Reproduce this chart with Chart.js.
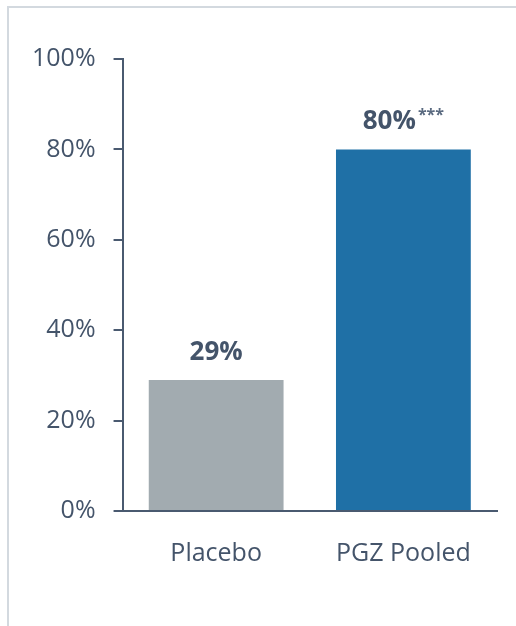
<!DOCTYPE html>
<html>
<head>
<meta charset="utf-8">
<script src="https://cdn.jsdelivr.net/npm/chart.js@4"></script>
<style>
  html, body { margin: 0; padding: 0; background: #fff; }
  #wrap { position: relative; width: 516px; height: 626px; }
  #frame { position: absolute; left: 7px; top: 6px; right: 0; bottom: 0; border-left: 2px solid #d3d9df; border-top: 2px solid #d3d9df; }
  canvas { position: absolute; left: 0; top: 0; }
</style>
</head>
<body>
<div id="wrap">
  <div id="frame"></div>
  <canvas id="chart" width="516" height="626"></canvas>
</div>
<script>
const categories = ['Placebo', 'PGZ Pooled'];
const values = [29, 80];
const valueLabels = ['29%', '80%'];
const significance = ['', '***'];
const barColors = ['#A2ABB0', '#1F70A6'];
const yTicks = [0, 20, 40, 60, 80, 100];

const TEXT = '#44546A';
const FONT = '"Open Sans", sans-serif';

const barLabels = {
  id: 'barLabels',
  afterDatasetsDraw(chart) {
    const ctx = chart.ctx;
    const meta = chart.getDatasetMeta(0);
    ctx.save();
    ctx.fillStyle = TEXT;
    ctx.textBaseline = 'alphabetic';
    meta.data.forEach((bar, i) => {
      ctx.font = `bold 26px ${FONT}`;
      const main = valueLabels[i];
      const wMain = ctx.measureText(main).width;
      ctx.font = `bold 16px ${FONT}`;
      const sup = significance[i];
      const wSup = sup ? ctx.measureText(sup).width + 2 : 0;
      const x0 = bar.x - (wMain + wSup) / 2;
      const yb = bar.y - 20;
      ctx.textAlign = 'left';
      ctx.font = `bold 26px ${FONT}`;
      ctx.fillText(main, x0, yb);
      if (sup) {
        ctx.font = `bold 16px ${FONT}`;
        ctx.fillStyle = '#5a6a80';
        ctx.fillText(sup, x0 + wMain + 2, yb - 9);
        ctx.fillStyle = TEXT;
      }
    });
    ctx.restore();
  }
};

new Chart(document.getElementById('chart'), {
  type: 'bar',
  data: {
    labels: categories,
    datasets: [{
      data: values,
      backgroundColor: barColors,
      borderWidth: 0,
      barPercentage: 0.72,
      categoryPercentage: 1.0
    }]
  },
  options: {
    responsive: false,
    animation: false,
    events: [],
    layout: { padding: { left: 14, right: 19, top: 59, bottom: 37 } },
    plugins: { legend: { display: false }, tooltip: { enabled: false } },
    scales: {
      x: {
        grid: { display: false },
        border: { display: true, color: '#4A5A70', width: 2 },
        ticks: { color: TEXT, font: { family: FONT, size: 25 }, padding: 20 }
      },
      y: {
        min: 0, max: 100,
        afterBuildTicks: (scale) => { scale.ticks = yTicks.map(v => ({ value: v })); },
        grid: { drawOnChartArea: false, drawTicks: true, tickLength: 9, color: '#4A5A70', lineWidth: 2 },
        border: { display: true, color: '#4A5A70', width: 2 },
        ticks: { color: TEXT, font: { family: FONT, size: 25 }, padding: 18, callback: v => v + '%' }
      }
    }
  },
  plugins: [barLabels]
});
</script>
</body>
</html>
